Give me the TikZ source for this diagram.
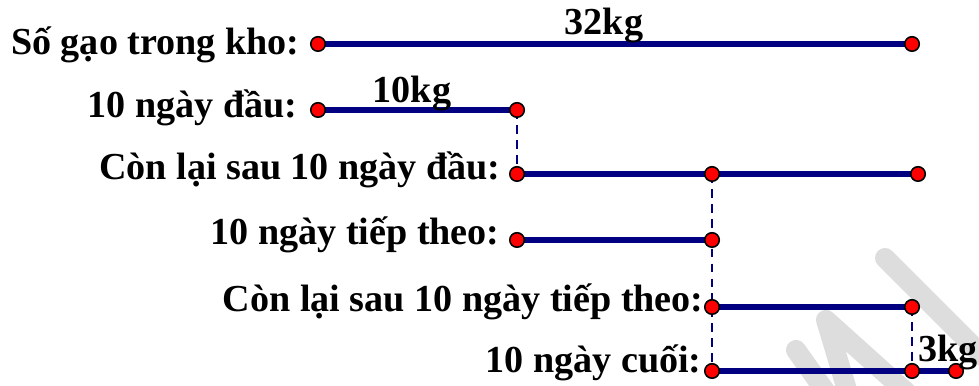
\documentclass[tikz,border=0pt]{standalone}
\usepackage{fontspec}
\setmainfont{Liberation Serif}
\usetikzlibrary{positioning}
\definecolor{segblue}{RGB}{0,0,128}
\definecolor{wmgray}{RGB}{221,221,221}

\begin{document}
\begin{tikzpicture}[
    seg/.style={line width=2.9pt, draw=segblue},
    guide/.style={line width=0.8pt, draw=segblue, dash pattern=on 5pt off 3.5pt},
    dot/.style={circle, fill=red, draw=black, line width=0.9pt, minimum size=0.29cm, inner sep=0pt},
    lbl/.style={anchor=base east, inner sep=0pt, font=\bfseries\fontsize{21.7}{24}\selectfont},
    qty/.style={anchor=base, inner sep=0pt, font=\bfseries\fontsize{21.7}{24}\selectfont},
    wmark/.style={line width=0.4cm, draw=wmgray, line cap=round, line join=round}
  ]
  %%%%% START %%%%%
  \clip (0, 0) rectangle (19.58, 7.72);
  \useasboundingbox (0, 0) rectangle (19.58, 7.72);

  % watermark
  \draw[wmark] (15.92, 0.72) -- (16.70, -0.38);
  \draw[wmark] (17.00, -0.28) -- (16.52, 1.32) -- (18.30, -0.28);
  \draw[wmark] (17.70, 2.56) -- (20.10, 0.16);

  % points
  \coordinate (a1) at (6.36, 6.84);
  \coordinate (d1) at (18.24, 6.84);
  \coordinate (a2) at (6.36, 5.52);
  \coordinate (b2) at (10.34, 5.52);
  \coordinate (b3) at (10.34, 4.24);
  \coordinate (c3) at (14.24, 4.24);
  \coordinate (e3) at (18.36, 4.24);
  \coordinate (b4) at (10.34, 2.92);
  \coordinate (c4) at (14.24, 2.92);
  \coordinate (c5) at (14.24, 1.58);
  \coordinate (d5) at (18.24, 1.58);
  \coordinate (c6) at (14.24, 0.30);
  \coordinate (d6) at (18.24, 0.30);
  \coordinate (f6) at (19.12, 0.30);

  % segments
  \draw[seg] (a1) -- (d1);
  \draw[seg] (a2) -- (b2);
  \draw[seg] (b3) -- (e3);
  \draw[seg] (b4) -- (c4);
  \draw[seg] (c5) -- (d5);
  \draw[seg] (c6) -- (f6);

  % dashed guides
  \draw[guide] (b2) -- (b3);
  \draw[guide] (c3) -- (c6);
  \draw[guide] (d5) -- (d6);

  \foreach \p in {a1,d1,a2,b2,b3,c3,e3,b4,c4,c5,d5,c6,d6,f6}
    \node[dot] (dot-\p) at (\p) {};

  % row labels
  \node[lbl] (lbl1) at (6.00, 6.62) {Số gạo trong kho:};
  \node[lbl] (lbl2) at (5.96, 5.36) {10 ngày đầu:};
  \node[lbl] (lbl3) at (10.02, 4.12) {Còn lại sau 10 ngày đầu:};
  \node[lbl] (lbl4) at (10.00, 2.82) {10 ngày tiếp theo:};
  \node[lbl] (lbl5) at (14.08, 1.48) {Còn lại sau 10 ngày tiếp theo:};
  \node[lbl] (lbl6) at (14.04, 0.26) {10 ngày cuối:};

  % amounts
  \node[qty] (total) at (12.08, 7.02) {32kg};
  \node[qty] (first) at (8.24, 5.66) {10kg};
  \node[qty] (rest) at (18.96, 0.48) {3kg};
  %%%%% END %%%%%
\end{tikzpicture}
\end{document}
